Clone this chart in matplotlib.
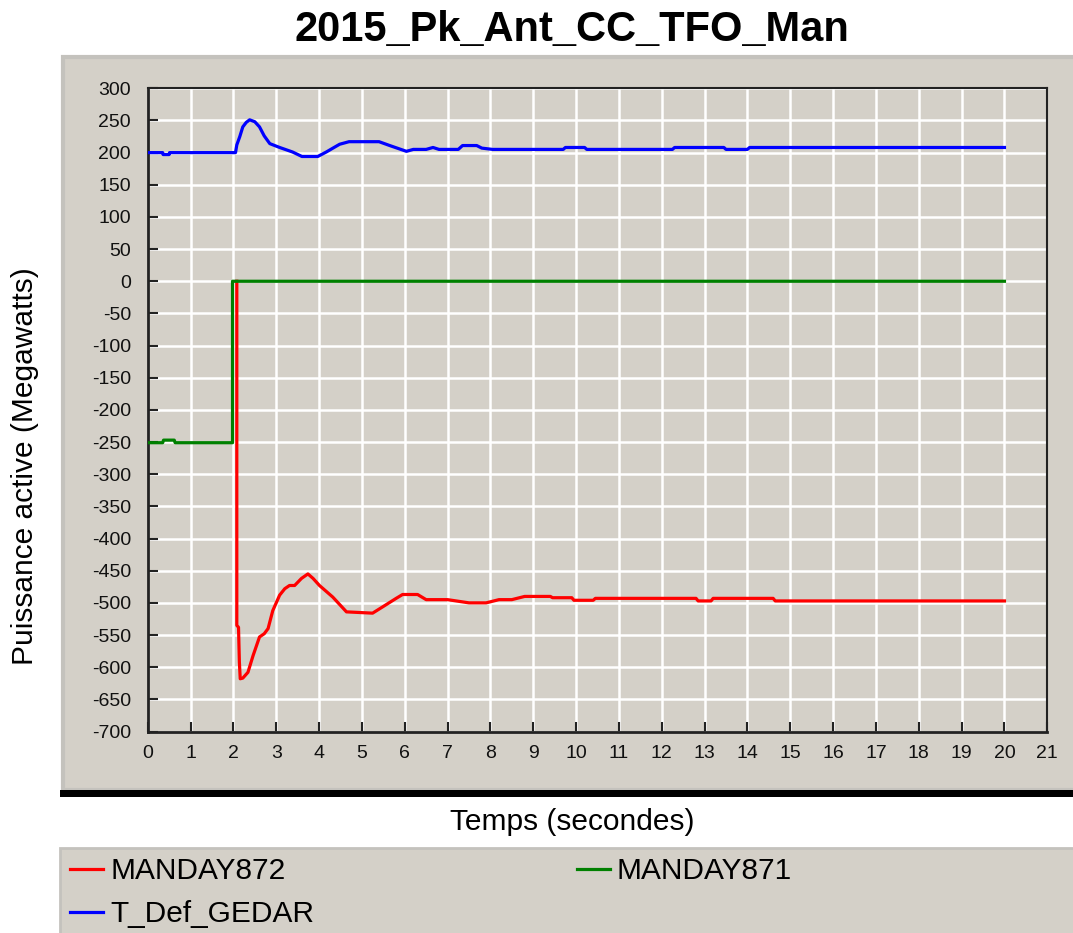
import matplotlib
matplotlib.use("Agg")
from matplotlib import pyplot as plt
from matplotlib.patches import Rectangle

plt.rcParams['font.family'] = ['Liberation Sans', 'DejaVu Sans']
plt.rcParams['axes.unicode_minus'] = False

W, H = 1073, 933
BG = '#d4d0c8'

TITLE = '2015_Pk_Ant_CC_TFO_Man'
XLABEL = 'Temps (secondes)'
YLABEL = 'Puissance active (Megawatts)'
X_TICKS = list(range(0, 22))
Y_TICKS = list(range(-700, 301, 50))

# MANDAY872 (red)
red_t = [2.08, 2.08, 2.12, 2.14, 2.16, 2.22, 2.34, 2.46, 2.61, 2.72, 2.81, 2.92,
         3.08, 3.20, 3.31, 3.43, 3.59, 3.74, 3.86, 4.01, 4.32, 4.64, 5.25, 5.49,
         5.80, 5.95, 6.30, 6.50, 7.00, 7.50, 7.90, 8.20, 8.50, 8.80, 9.40, 9.45,
         9.90, 9.95, 10.40, 10.45, 12.80, 12.85, 13.15, 13.20, 14.60, 14.65, 20.0]
red_mw = [0, -535, -538, -592, -618, -617, -608, -582, -553, -548, -540, -512,
          -488, -478, -473, -473, -462, -455, -462, -473, -491, -514, -516, -506,
          -493, -487, -487, -495, -495, -500, -500, -495, -495, -490, -490, -492,
          -492, -496, -496, -493, -493, -497, -497, -493, -493, -497, -497]

# MANDAY871 (green)
green_t = [0, 0.35, 0.37, 0.62, 0.64, 1.98, 1.98, 20.0]
green_mw = [-251, -251, -247, -247, -251, -251, 0, 0]

# T_Def_GEDAR (blue)
blue_t = [0, 0.35, 0.36, 0.50, 0.51, 2.05, 2.08, 2.15, 2.22, 2.30, 2.38, 2.50,
          2.61, 2.72, 2.85, 3.08, 3.38, 3.60, 3.97, 4.17, 4.35, 4.48, 4.70, 5.40,
          5.65, 6.04, 6.20, 6.50, 6.66, 6.80, 7.25, 7.35, 7.68, 7.80, 8.05, 9.70,
          9.75, 10.20, 10.25, 12.25, 12.30, 13.45, 13.50, 14.00, 14.05, 20.0]
blue_mw = [200, 200, 197, 197, 200, 200, 212, 225, 240, 247, 251, 248,
           240, 226, 214, 208, 201, 194, 194, 201, 208, 213, 217, 217,
           211, 202, 205, 205, 208, 205, 205, 211, 211, 207, 205, 205,
           208, 208, 205, 205, 208, 208, 205, 205, 208, 208]


def box(fig, x0, y0, x1, y1, **kw):
    fig.add_artist(Rectangle((x0 / W, 1 - y1 / H), (x1 - x0) / W, (y1 - y0) / H,
                             transform=fig.transFigure, zorder=-5, **kw))


fig = plt.figure(figsize=(W / 100, H / 100), dpi=100)
fig.patch.set_facecolor('white')

# grey panels and the black separator
box(fig, 63, 57, 1076, 790, facecolor=BG, edgecolor='#c4c2bd', linewidth=3)
box(fig, 60, 790, 1076, 797, facecolor='black', edgecolor='none')
box(fig, 60, 848, 1076, 940, facecolor=BG, edgecolor='#c4c2bd', linewidth=2)

ax = fig.add_axes([147.7 / W, 1 - 731.5 / H, (1047.3 - 147.7) / W, (731.5 - 88.3) / H])
ax.set_facecolor(BG)

ax.plot(red_t, red_mw, color='#ff0000', lw=2.3, label='MANDAY872', zorder=3)
ax.plot(blue_t, blue_mw, color='#0000ff', lw=2.3, label='T_Def_GEDAR', zorder=3)
ax.plot(green_t, green_mw, color='#008000', lw=2.3, label='MANDAY871', zorder=4)

ax.set_xlim(0, 21)
ax.set_ylim(-700, 300)
ax.set_xticks(X_TICKS)
ax.set_yticks(Y_TICKS)
ax.grid(True, color='white', lw=1.8)
ax.set_axisbelow(True)
ax.tick_params(direction='in', length=7, width=1.5, labelsize=14,
               colors='#222222', labelcolor='#111111')
ax.tick_params(axis='y', pad=12)
ax.tick_params(axis='x', pad=10)
for name, sp in ax.spines.items():
    sp.set_color('#222222')
    sp.set_linewidth(2 if name in ('left', 'bottom') else 1.5)

fig.text(572 / W, 1 - 30 / H, TITLE, ha='center', va='center',
         fontsize=30, fontweight='bold')
fig.text(572 / W, 1 - 822 / H, XLABEL, ha='center', va='center', fontsize=21.5)
fig.text(25 / W, 1 - 466 / H, YLABEL, ha='center', va='center',
         rotation=90, fontsize=21.5)

handles, labels = ax.get_legend_handles_labels()
fig.legend(handles, labels, ncol=2, loc='upper left',
           bbox_to_anchor=(66 / W, 1 - 853 / H), frameon=False, fontsize=21.5,
           handlelength=1.1, handletextpad=0.23, columnspacing=8.8,
           labelspacing=0.49, borderaxespad=0, borderpad=0.15)

fig.savefig('out.png', dpi=100, facecolor='white')
